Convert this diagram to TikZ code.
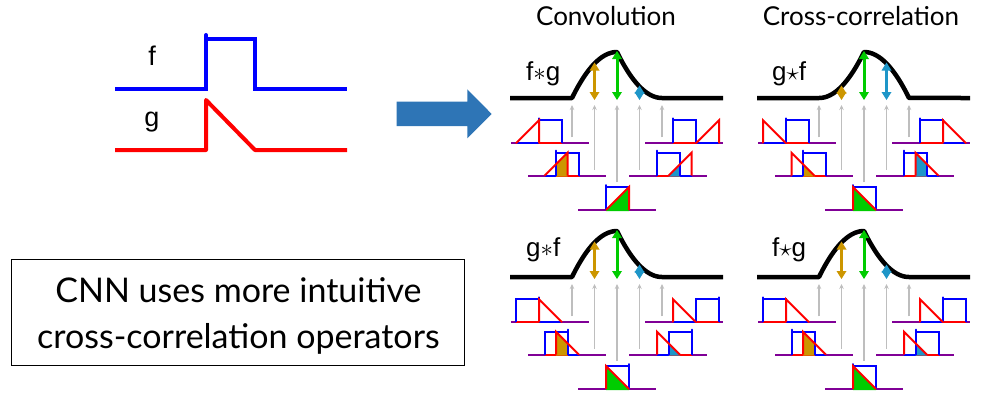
\documentclass[tikz,border=0pt]{standalone}
\usepackage{fontspec}
\setmainfont{Lato}
\newfontfamily\arialf{Liberation Sans}
\usetikzlibrary{arrows.meta}
\definecolor{fblue}{RGB}{0,0,255}
\definecolor{gred}{RGB}{255,0,0}
\definecolor{axpurple}{RGB}{128,0,150}
\definecolor{agold}{RGB}{204,150,0}
\definecolor{agreen}{RGB}{0,204,0}
\definecolor{acyan}{RGB}{30,150,200}
\definecolor{arrowblue}{RGB}{46,117,182}
\definecolor{greyarr}{RGB}{190,190,190}

% overlap fill: #1 type, #2 left, #3 right, #4 baseline y, #5 colour
\newcommand\spovfill[5]{%
  \pgfmathsetmacro\spOL{#2}\pgfmathsetmacro\spOR{#3}%
  \ifnum#1=1\relax
    \pgfmathsetmacro\sphl{\spOL-\spTl}\pgfmathsetmacro\sphr{\spOR-\spTl}%
  \else
    \pgfmathsetmacro\sphl{\spTr-\spOL}\pgfmathsetmacro\sphr{\spTr-\spOR}%
  \fi
  \fill[#5] (\spOL,#4+1) -- (\spOL,#4-\sphl) -- (\spOR,#4-\sphr) -- (\spOR,#4+1) -- cycle;
}

% small plot: #1 type, #2 k, #3 X, #4 baseline Y
\newcommand\smallplot[4]{%
  \pgfmathsetmacro\spFl{#3}\pgfmathsetmacro\spFr{#3+23}%
  \pgfmathsetmacro\spMl{#3+#2*11.5-23}\pgfmathsetmacro\spMr{#3+#2*11.5}%
  \ifnum#1<3\relax
    \let\spBl\spFl\let\spBr\spFr\let\spTl\spMl\let\spTr\spMr
  \else
    \let\spBl\spMl\let\spBr\spMr\let\spTl\spFl\let\spTr\spFr
  \fi
  \pgfmathsetmacro\spYt{#4-23}%
  \draw[sp,axpurple] (#3-28,#4) -- (#3+50,#4);
  \draw[sp,fblue] (\spTl,#4) -- (\spTr,#4);
  \draw[sp,gred] (\spBl,#4) -- (\spBr,#4);
  \ifcase#2\relax
  \or \spovfill{#1}{#3}{#3+11.5}{#4}{agold}%
  \or \spovfill{#1}{#3}{#3+23}{#4}{agreen}%
  \or \spovfill{#1}{#3+11.5}{#3+23}{#4}{acyan}%
  \or
  \fi
  \draw[sp,fblue] (\spBl,#4) -- (\spBl,\spYt) -- (\spBr,\spYt) -- (\spBr,#4);
  \ifnum#1=3\relax
    \draw[sp,fblue,line cap=round] (\spBr,\spYt) -- ++(0,-2);
  \else
    \draw[sp,fblue,line cap=round] (\spBl,\spYt) -- ++(0,-2);
  \fi
  \ifnum#1=1\relax
    \draw[sp,gred] (\spTl,#4) -- (\spTr,\spYt) -- (\spTr,#4);
  \else
    \draw[sp,gred] (\spTl,#4) -- (\spTl,\spYt) -- (\spTr,#4);
  \fi
}

% double arrow: #1 x, #2 top y, #3 bottom y, #4 colour
\newcommand\dblarr[4]{%
  \draw[#4,line width=3pt] (#1,#2+6) -- (#1,#3-6);
  \fill[#4] (#1-5,#2+8) -- (#1,#2) -- (#1+5,#2+8) -- cycle;
  \fill[#4] (#1-5,#3-8) -- (#1,#3) -- (#1+5,#3-8) -- cycle;
}

% panel: #1 type, #2 dx, #3 dy
\newcommand\panel[3]{%
  \foreach \k/\X/\Y in {0/539/143.3,1/556/175.7,2/606/210,3/657/175.7,4/673/143.3}{%
    \pgfmathsetmacro\PX{\X+#2}\pgfmathsetmacro\PY{\Y+#3}%
    \pgfmathsetmacro\GX{572+#2+\k*22.5}%
    \ifnum\k=2\relax \pgfmathsetmacro\GY{\PY-28}\else \pgfmathsetmacro\GY{\PY-6}\fi
    \draw[greyarr,line width=1.2pt,-{Stealth[length=5pt,width=4.5pt]}] (\GX,\GY) -- (\GX,105+#3);
    \smallplot{#1}{\k}{\PX}{\PY}%
  }%
  \pgfmathsetmacro\BB{98+#3}%
  \ifnum#1=2\relax
    \draw[line width=4.5pt,line join=round] (510+#2,\BB) -- (572+#2,\BB)
      -- plot[domain=0:1,samples=25] ({572+#2+45*\x},{\BB-46*\x*\x})
      -- plot[domain=0:1,samples=25] ({617+#2+45*\x},{\BB-46*(1-\x*\x)})
      -- (723+#2,\BB);
    \dblarr{594.5+#2}{\BB-12.5}{\BB+2}{agold}%
    \dblarr{617+#2}{\BB-47}{\BB+2}{agreen}%
    \dblarr{639.5+#2}{\BB-35.5}{\BB+2}{acyan}%
  \else
    \draw[line width=4.5pt,line join=round] (510+#2,\BB) -- (572+#2,\BB)
      -- plot[domain=0:1,samples=25] ({572+#2+45*\x},{\BB-46*(2*\x-\x*\x)})
      -- plot[domain=0:1,samples=25] ({617+#2+45*\x},{\BB-46*(1-\x)*(1-\x)})
      -- (723+#2,\BB);
    \dblarr{594.5+#2}{\BB-35.5}{\BB+2}{agold}%
    \dblarr{617+#2}{\BB-47}{\BB+2}{agreen}%
    \dblarr{639.5+#2}{\BB-12.5}{\BB+2}{acyan}%
  \fi
}

\begin{document}
\begin{tikzpicture}[x=1pt,y=-1pt,sp/.style={line width=2pt},
  oplabel/.style={font=\arialf\fontsize{26}{28}\selectfont,anchor=base west,inner sep=0pt},
  title/.style={font=\fontsize{26}{30}\selectfont,anchor=base,inner sep=0pt}]
\useasboundingbox (0,0) rectangle (998,402);

% f and g
\draw[fblue,line width=4pt] (115,89.3) -- (206,89.3) -- (206,39.3) -- (255,39.3) -- (255,89.3) -- (347,89.3);
\draw[fblue,line width=4pt,line cap=round] (206,39.3) -- (206,35);
\draw[gred,line width=4pt,line join=round] (115,150) -- (206,150) -- (206,100) -- (255,150) -- (347,150);
\node[font=\arialf\fontsize{27}{30}\selectfont,anchor=base] (flab) at (152,65) {f};
\node[font=\arialf\fontsize{27}{30}\selectfont,anchor=base] (glab) at (152,126) {g};

% big arrow
\fill[arrowblue] (396.7,101.7) -- (467.3,101.7) -- (467.3,89.3) -- (491.7,114) -- (467.3,138.3) -- (467.3,126) -- (396.7,126) -- cycle;

% note box
\node[draw,line width=1pt,minimum width=453pt,minimum height=105.7pt,inner sep=0pt] (note) at (238.4,312.2) {};
\node[font=\fontsize{34}{46}\selectfont,anchor=base] (note1) at (238.4,302) {CNN uses more intuitive};
\node[font=\fontsize{34}{46}\selectfont,anchor=base] (note2) at (238.4,348) {cross-correlation operators};

% titles
\node[title] (tconv) at (606,25) {Convolution};
\node[title] (tcorr) at (861,25) {Cross-correlation};

% panels
\panel{1}{0}{0}
\panel{2}{247}{0}
\panel{3}{0}{179}
\panel{4}{247}{179}

% operator labels
\node[oplabel] (l1) at (526,80) {f$\ast$g};
\node[oplabel] (l2) at (772,80) {g$\star$f};
\node[oplabel] (l3) at (526,256) {g$\ast$f};
\node[oplabel] (l4) at (772,256) {f$\star$g};
\end{tikzpicture}
\end{document}
